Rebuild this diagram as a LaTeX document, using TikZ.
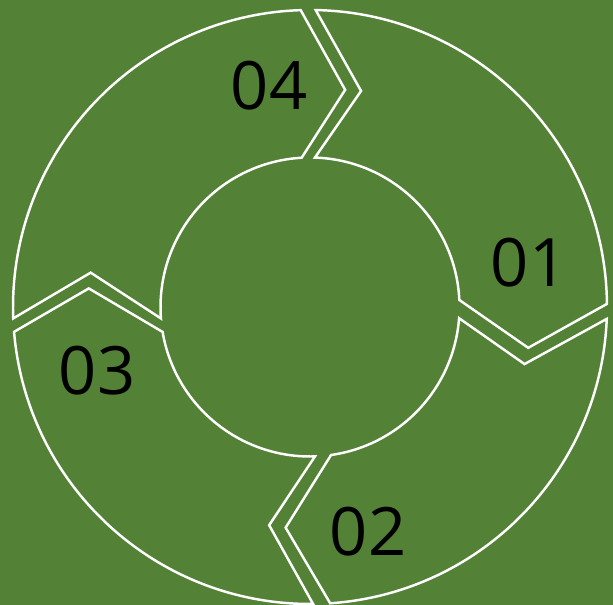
\documentclass[tikz,border=0pt]{standalone}
\usepackage{fontspec}
\setmainfont{Open Sans}
\usepackage{tikz}
\definecolor{bgreen}{HTML}{538135}

\begin{document}
\begin{tikzpicture}[x=0.02cm,y=0.02cm,
  seg/.style={draw=white,line width=1.4pt,fill=bgreen,line join=miter},
  lbl/.style={font=\fontsize{38}{40}\selectfont,text=black,inner sep=0pt}]
  \fill[bgreen] (0,0) rectangle (613,605);
  \useasboundingbox (0,0) rectangle (613,605);
  \begin{scope}[shift={(310,298)}]
    % 01 upper right
    \draw[seg] (88.9:297) -- (76.7:222) -- (88.1:149.5) arc[start angle=88.1,end angle=2.7,radius=149.5]
      -- (-10.6:222) -- (0.6:297) arc[start angle=0.6,end angle=88.9,radius=297] -- cycle;
    % 02 lower right
    \draw[seg] (-2.3:297) -- (-14.9:222) -- (-4.3:149.5) arc[start angle=-4.3,end angle=-81.9,radius=149.5]
      -- (-96.3:222) -- (-86.1:297) arc[start angle=-86.1,end angle=-2.3,radius=297] -- cycle;
    % 03 lower left
    \draw[seg] (-89.4:297) -- (-100.6:222) -- (-88.1:149.5) arc[start angle=-88.1,end angle=-170.4,radius=149.5]
      -- (-184.8:222) -- (-175.2:297) arc[start angle=-175.2,end angle=-89.4,radius=297] -- cycle;
    % 04 upper left
    \draw[seg] (182.2:297) -- (171.1:222) -- (184.4:149.5) arc[start angle=184.4,end angle=93.2,radius=149.5]
      -- (80.8:220) -- (91.8:297) arc[start angle=91.8,end angle=182.2,radius=297] -- cycle;
  \end{scope}
  \node[lbl] (n01) at (529,342.5) {01};
  \node[lbl] (n02) at (368,73) {02};
  \node[lbl] (n03) at (97,234) {03};
  \node[lbl] (n04) at (269,519) {04};
\end{tikzpicture}
\end{document}
